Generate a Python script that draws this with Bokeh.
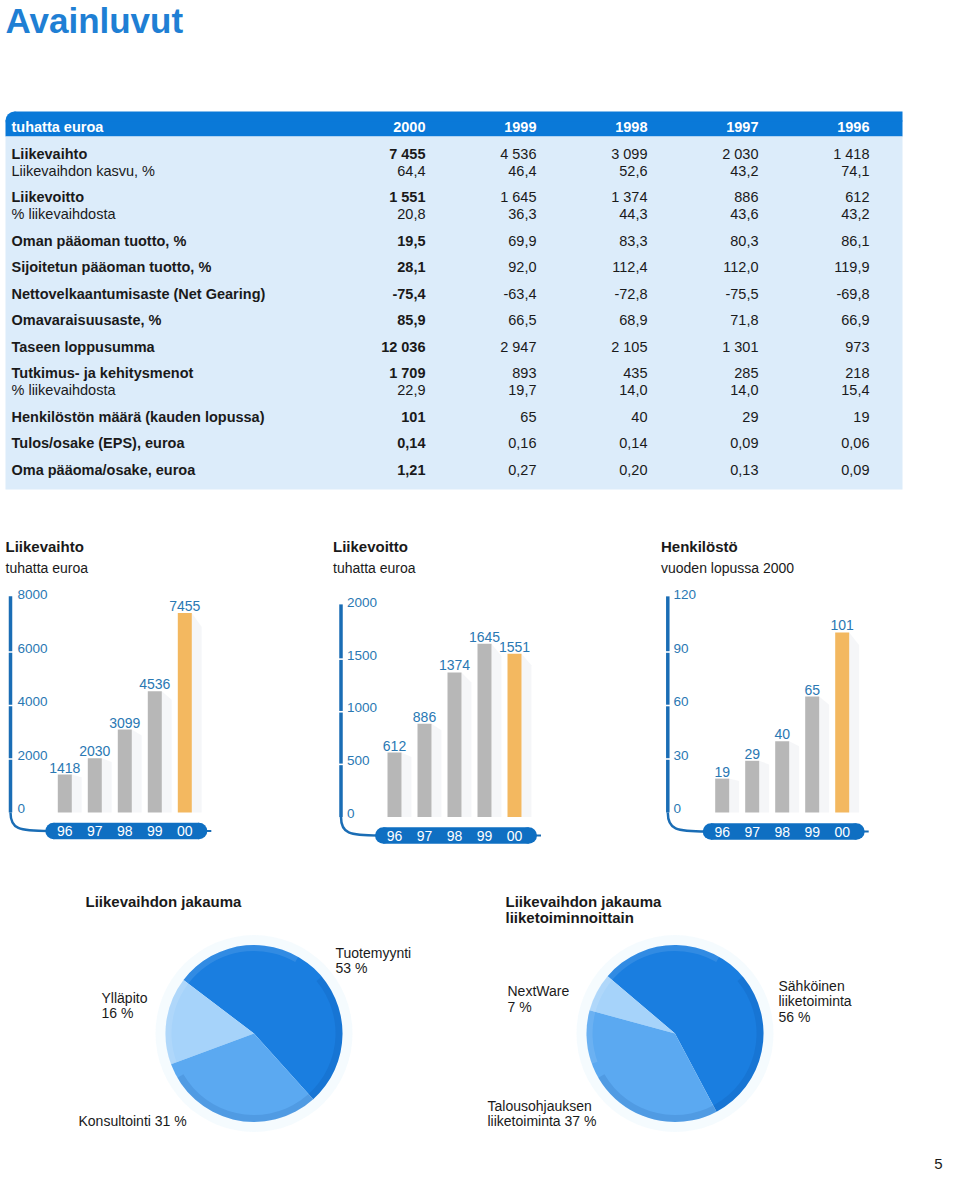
import numpy as np
from bokeh.plotting import figure
from bokeh.models import Range1d
from bokeh.embed import file_html
from bokeh.resources import INLINE
from bokeh.core.properties import value

# ---------------- data ----------------
table_header = "tuhatta euroa"
table_years = ["2000", "1999", "1998", "1997", "1996"]
table_labels = ["Liikevaihto", "Liikevaihdon kasvu, %", "Liikevoitto", "% liikevaihdosta",
                "Oman pääoman tuotto, %", "Sijoitetun pääoman tuotto, %",
                "Nettovelkaantumisaste (Net Gearing)", "Omavaraisuusaste, %",
                "Taseen loppusumma", "Tutkimus- ja kehitysmenot", "% liikevaihdosta",
                "Henkilöstön määrä (kauden lopussa)", "Tulos/osake (EPS), euroa",
                "Oma pääoma/osake, euroa"]
table_main = [True, False, True, False, True, True, True, True, True, True, False, True, True, True]
col_2000 = ["7 455", "64,4", "1 551", "20,8", "19,5", "28,1", "-75,4", "85,9", "12 036", "1 709", "22,9", "101", "0,14", "1,21"]
col_1999 = ["4 536", "46,4", "1 645", "36,3", "69,9", "92,0", "-63,4", "66,5", "2 947", "893", "19,7", "65", "0,16", "0,27"]
col_1998 = ["3 099", "52,6", "1 374", "44,3", "83,3", "112,4", "-72,8", "68,9", "2 105", "435", "14,0", "40", "0,14", "0,20"]
col_1997 = ["2 030", "43,2", "886", "43,6", "80,3", "112,0", "-75,5", "71,8", "1 301", "285", "14,0", "29", "0,09", "0,13"]
col_1996 = ["1 418", "74,1", "612", "43,2", "86,1", "119,9", "-69,8", "66,9", "973", "218", "15,4", "19", "0,06", "0,09"]

years_short = ["96", "97", "98", "99", "00"]
liikevaihto = [1418, 2030, 3099, 4536, 7455]
liikevaihto_ticks = [0, 2000, 4000, 6000, 8000]
liikevoitto = [612, 886, 1374, 1645, 1551]
liikevoitto_ticks = [0, 500, 1000, 1500, 2000]
henkilosto = [19, 29, 40, 65, 101]
henkilosto_ticks = [0, 30, 60, 90, 120]

pie1_labels = ["Tuotemyynti", "Ylläpito", "Konsultointi"]
pie1_values = [53, 16, 31]
pie2_labels = ["Sähköinen liiketoiminta", "NextWare", "Talousohjauksen liiketoiminta"]
pie2_values = [56, 7, 37]

# ---------------- styles ----------------
FONT = value("Liberation Sans")
BLUE_T = "#1f7fd4"
HEAD = "#0a79d8"
BODY = "#dcecfa"
LBL = "#2a78b3"
AXC = "#1a6db5"
PILL = "#0f6fc2"
GRAY = "#b7b7b7"
ORANGE = "#f3b860"
TXT = "#1a1a1a"

W, H = 944, 1176
X0, X1, Y0, Y1 = 0, 944, 0, 1176

p = figure(width=W, height=H, x_range=Range1d(X0, X1), y_range=Range1d(Y1, Y0),
           output_backend="svg", toolbar_location=None, min_border=0,
           x_axis_location=None, y_axis_location=None)
p.grid.visible = False
p.outline_line_color = None
p.background_fill_color = "white"
p.border_fill_color = "white"


def txt(x, y, t, size="14px", bold=False, color=TXT, align="left", baseline="middle", **kw):
    p.text(x=x, y=y, text=t, text_font=FONT, text_font_size=size,
           text_font_style="bold" if bold else "normal", text_color=color,
           text_align=align, text_baseline=baseline, **kw)


# ---------------- title ----------------
txt([5], [20], ["Avainluvut"], size="35px", bold=True, color=BLUE_T)

# ---------------- table ----------------
tl, tr, htop, hbot, bbot = 5, 902, 111, 136, 489
rad = 9
p.quad(left=[tl], right=[tr], top=[htop + rad], bottom=[hbot], fill_color=HEAD, line_color=None)
p.quad(left=[tl + rad], right=[tr], top=[htop], bottom=[htop + rad + 1], fill_color=HEAD, line_color=None)
p.circle(x=[tl + rad], y=[htop + rad], radius=rad, fill_color=HEAD, line_color=None)
p.quad(left=[tl], right=[tr], top=[hbot], bottom=[bbot], fill_color=BODY, line_color=None)

col_right = [425 + 111 * i for i in range(5)]
txt([11], [126], [table_header], size="14.5px", bold=True, color="white")
txt(col_right, [126] * 5, table_years, size="14.5px", bold=True, color="white", align="right")

row_y = []
yy = 153.0
for i, m in enumerate(table_main):
    if i > 0:
        yy += 26.5 if m else 17.0
    row_y.append(yy)

main_idx = [i for i, m in enumerate(table_main) if m]
sub_idx = [i for i, m in enumerate(table_main) if not m]
txt([11] * len(main_idx), [row_y[i] for i in main_idx], [table_labels[i] for i in main_idx],
    size="14.5px", bold=True)
txt([11] * len(sub_idx), [row_y[i] for i in sub_idx], [table_labels[i] for i in sub_idx],
    size="14.5px")
cols = [col_2000, col_1999, col_1998, col_1997, col_1996]
for c, col in enumerate(cols):
    if c == 0:
        txt([col_right[0]] * len(main_idx), [row_y[i] for i in main_idx], [col[i] for i in main_idx],
            size="14.5px", bold=True, align="right")
        txt([col_right[0]] * len(sub_idx), [row_y[i] for i in sub_idx], [col[i] for i in sub_idx],
            size="14.5px", align="right")
    else:
        txt([col_right[c]] * len(col), row_y, col, size="14.5px", align="right")

# ---------------- bar charts ----------------
charts = [
    dict(title="Liikevaihto", sub="tuhatta euroa", vals=liikevaihto, ticks=liikevaihto_ticks,
         title_x=5, axis_x=10, label_x=17, c0=64.3, base=812, top=598, pill_cy=830.5),
    dict(title="Liikevoitto", sub="tuhatta euroa", vals=liikevoitto, ticks=liikevoitto_ticks,
         title_x=332.5, axis_x=340.5, label_x=346.5, c0=394, base=816.5, top=606, pill_cy=835),
    dict(title="Henkilöstö", sub="vuoden lopussa 2000", vals=henkilosto, ticks=henkilosto_ticks,
         title_x=660.5, axis_x=667.3, label_x=673, c0=721.7, base=812, top=598, pill_cy=831),
]
PITCH = 30.0
xr, yr = {}, {}
for k, ch in enumerate(charts):
    s = (ch["base"] - ch["top"]) / ch["ticks"][-1]
    yr[f"v{k}"] = Range1d(start=(ch["base"] - Y1) / s, end=(ch["base"] - Y0) / s)
    xr[f"i{k}"] = Range1d(start=(X0 - ch["c0"]) / PITCH, end=(X1 - ch["c0"]) / PITCH)
yr["up"] = Range1d(start=-Y1, end=-Y0)
p.extra_x_ranges = xr
p.extra_y_ranges = yr

for k, ch in enumerate(charts):
    xn, yn = f"i{k}", f"v{k}"
    vals, ticks = ch["vals"], ch["ticks"]
    idx = list(range(len(vals)))
    # titles
    txt([ch["title_x"]], [546], [ch["title"]], size="15px", bold=True)
    txt([ch["title_x"]], [567], [ch["sub"]], size="14px")
    # axis line with notches
    p.segment(x0=[ch["axis_x"]], x1=[ch["axis_x"]], y0=[ticks[-1] * 1.01], y1=[0],
              y_range_name=yn, line_color=AXC, line_width=3.5)
    p.segment(x0=[ch["axis_x"] - 3] * 3, x1=[ch["axis_x"] + 3] * 3, y0=ticks[1:-1], y1=ticks[1:-1],
              y_range_name=yn, line_color="white", line_width=1.6)
    # curve to pill
    pill_l = ch["c0"] - 19.5
    pill_r = ch["c0"] + 4 * PITCH + 22.5
    cy = ch["pill_cy"]
    p.bezier(x0=[ch["axis_x"]], y0=[ch["base"]], x1=[pill_l + 4], y1=[cy],
             cx0=[ch["axis_x"]], cy0=[cy - 2], cx1=[ch["axis_x"] + 8], cy1=[cy],
             line_color=AXC, line_width=2.5)
    p.segment(x0=[pill_r - 4], x1=[pill_r + 4], y0=[cy], y1=[cy], line_color=AXC, line_width=2)
    pr = 8.3
    p.quad(left=[pill_l + pr], right=[pill_r - pr], top=[cy - pr], bottom=[cy + pr],
           fill_color=PILL, line_color=None)
    p.circle(x=[pill_l + pr, pill_r - pr], y=[cy, cy], radius=pr, fill_color=PILL, line_color=None)
    # year labels in pill
    txt(idx, [cy] * len(idx), years_short, size="14px", color="white", align="center",
        x_range_name=xn)
    # tick labels
    txt([ch["label_x"]] * len(ticks), ticks, [str(t) for t in ticks], size="13.5px", color=LBL,
        y_range_name=yn, y_offset=-4)
    # bar shadows
    bw = 14 / PITCH
    for i, v in enumerate(vals):
        xs = [i + bw / 2, i + bw / 2 + 0.33, i + bw / 2 + 0.33, i + bw / 2]
        ys = [v, v * 0.93, 0, 0]
        p.patch(x=xs, y=ys, x_range_name=xn, y_range_name=yn, fill_color="#eef0f3",
                fill_alpha=0.6, line_color=None)
    # bars
    colors = [GRAY] * (len(vals) - 1) + [ORANGE]
    p.vbar(x=idx, top=vals, bottom=0, width=bw, fill_color=colors, line_color=None,
           x_range_name=xn, y_range_name=yn)
    txt(idx, vals, [str(v) for v in vals], size="14px", color=LBL, align="center",
        baseline="bottom", y_offset=-2, x_range_name=xn, y_range_name=yn)

# ---------------- pies ----------------
pies = [
    dict(title=["Liikevaihdon jakauma"], tx=85, vals=pie1_values, cx=253.5, cy=1033, r=88.5,
         start=-48, colors=["#1a7ee0", "#a6d3fa", "#5ba9f1"]),
    dict(title=["Liikevaihdon jakauma", "liiketoiminnoittain"], tx=505, vals=pie2_values,
         cx=674.5, cy=1033, r=88.5, start=-62, colors=["#1a7ee0", "#a6d3fa", "#5ba9f1"]),
]
for pie in pies:
    for j, t in enumerate(pie["title"]):
        txt([pie["tx"]], [901 + 16 * j], [t], size="15px", bold=True)
    cx, cy, r = pie["cx"], pie["cy"], pie["r"]
    p.circle(x=[cx], y=[-cy], radius=r + 10, y_range_name="up", fill_color="#eef9fd",
             fill_alpha=0.6, line_color=None)
    fr = np.array(pie["vals"], dtype=float) / np.sum(pie["vals"])
    ends = np.radians(pie["start"]) + 2 * np.pi * np.cumsum(fr)
    starts = np.concatenate([[np.radians(pie["start"])], ends[:-1]])
    p.wedge(x=cx, y=-cy, radius=r, start_angle=starts, end_angle=ends, y_range_name="up",
            fill_color=pie["colors"], line_color=None)
    # rim shading
    p.annular_wedge(x=cx, y=-cy, inner_radius=r - 7, outer_radius=r,
                    start_angle=np.radians(-150), end_angle=np.radians(40), y_range_name="up",
                    fill_color="#0a3d80", fill_alpha=0.12, line_color=None)
    p.annular_wedge(x=cx, y=-cy, inner_radius=r - 6, outer_radius=r,
                    start_angle=np.radians(60), end_angle=np.radians(200), y_range_name="up",
                    fill_color="white", fill_alpha=0.10, line_color=None)

# pie labels
txt([335, 335], [952, 967], [pie1_labels[0], f"{pie1_values[0]} %"], size="14px")
txt([101, 101], [997, 1012], [pie1_labels[1], f"{pie1_values[1]} %"], size="14px")
txt([78], [1120], [f"{pie1_labels[2]} {pie1_values[2]} %"], size="14px")
txt([778, 778, 778], [985, 1000, 1016], ["Sähköinen", "liiketoiminta", f"{pie2_values[0]} %"], size="14px")
txt([507, 507], [990, 1006], [pie2_labels[1], f"{pie2_values[1]} %"], size="14px")
txt([487, 487], [1105, 1120], ["Talousohjauksen", f"liiketoiminta {pie2_values[2]} %"], size="14px")

# page number
txt([942], [1163], ["5"], size="15px", align="right", baseline="middle")

open("out.html", "w").write(file_html(p, INLINE))
